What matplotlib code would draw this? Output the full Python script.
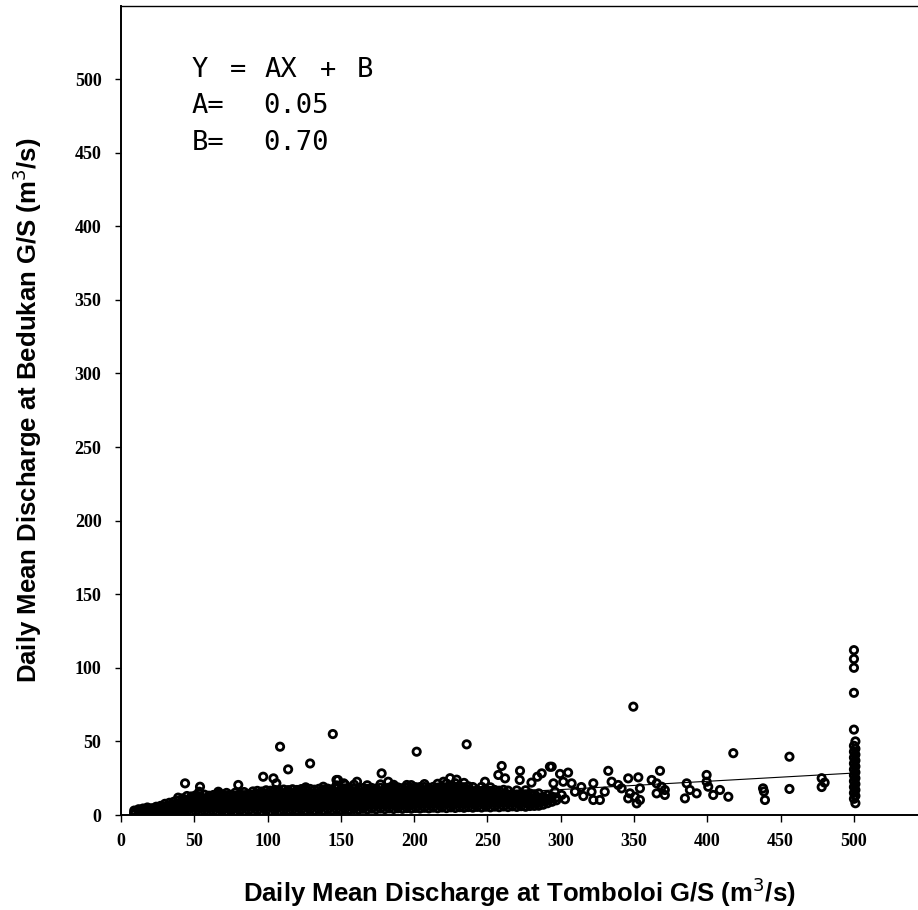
import matplotlib.pyplot as plt

# dense band of daily pairs (Tomboloi x, Bedukan y), read column by column
band_cols = [
    (9, [0.5, 1.6, 3.0]), (12, [0.8, 2.2, 3.9]), (15, [1.0, 2.6, 4.4]),
    (18, [0.7, 2.1, 3.7, 5.1]), (21, [1.2, 2.9, 4.6]), (24, [0.9, 2.4, 4.1, 5.6]),
    (27, [1.1, 3.0, 5.0, 6.2]), (30, [1.5, 3.4, 5.7, 7.6]), (33, [1.3, 3.6, 6.0, 8.3]),
    (36, [1.8, 4.1, 6.5, 9.0]), (39, [2.0, 4.5, 7.1, 9.7, 11.8]),
    (42, [1.6, 4.2, 6.8, 9.4, 11.3]), (45, [2.2, 5.0, 7.6, 10.3, 12.9]),
    (48, [2.0, 4.8, 7.7, 10.5, 12.6]), (51, [2.4, 5.2, 8.0, 10.8, 13.4]),
    (54, [1.9, 4.6, 7.4, 10.1, 12.5]), (57, [2.6, 5.5, 8.3, 11.2, 13.8]),
    (60, [2.2, 5.0, 7.9, 10.6, 13.1]), (63, [2.5, 5.3, 8.1, 10.9, 13.6]),
    (66, [2.0, 4.9, 7.6, 10.4, 12.9, 14.6]), (69, [2.7, 5.6, 8.4, 11.1, 13.9]),
    (72, [2.3, 5.1, 7.8, 10.7, 13.3, 15.0]), (75, [2.6, 5.4, 8.2, 11.0, 13.7]),
    (78, [2.1, 4.9, 7.7, 10.5, 13.2, 15.2]), (81, [2.8, 5.7, 8.5, 11.3, 14.1]),
    (84, [2.4, 5.2, 8.0, 10.8, 13.5, 15.6]), (87, [2.9, 5.8, 8.6, 11.4, 14.2]),
    (90, [2.5, 5.3, 8.1, 10.9, 13.7, 16.0]), (93, [3.0, 5.9, 8.7, 11.5, 14.3, 16.4]),
    (96, [2.6, 5.4, 8.2, 11.0, 13.8, 15.9]), (99, [3.1, 6.0, 8.8, 11.6, 14.4, 16.8]),
    (102, [2.7, 5.5, 8.3, 11.1, 13.9, 16.5]), (105, [3.2, 6.1, 8.9, 11.7, 14.5, 17.0]),
    (108, [2.8, 5.6, 8.4, 11.2, 14.0, 16.6]), (111, [3.3, 6.2, 9.0, 11.8, 14.6, 17.3]),
    (114, [2.9, 5.7, 8.5, 11.3, 14.1, 16.9]), (117, [3.4, 6.3, 9.1, 11.9, 14.7, 17.5]),
    (120, [3.0, 5.8, 8.6, 11.4, 14.2, 17.0]), (123, [3.5, 6.4, 9.2, 12.0, 14.8, 17.6]),
    (126, [3.1, 5.9, 8.7, 11.5, 14.3, 17.1, 18.8]), (129, [3.6, 6.5, 9.3, 12.1, 14.9, 17.7]),
    (132, [3.2, 6.0, 8.8, 11.6, 14.4, 17.2]), (135, [3.7, 6.6, 9.4, 12.2, 15.0, 17.8]),
    (138, [3.3, 6.1, 8.9, 11.7, 14.5, 17.3, 19.2]), (141, [3.8, 6.7, 9.5, 12.3, 15.1, 17.9]),
    (144, [3.4, 6.2, 9.0, 11.8, 14.6, 17.4]), (147, [3.9, 6.8, 9.6, 12.4, 15.2, 18.0, 20.1]),
    (150, [3.5, 6.3, 9.1, 11.9, 14.7, 17.5]), (153, [4.0, 6.9, 9.7, 12.5, 15.3, 18.1, 20.4]),
    (156, [3.6, 6.4, 9.2, 12.0, 14.8, 17.6]), (159, [4.1, 7.0, 9.8, 12.6, 15.4, 18.2, 20.6]),
    (162, [3.7, 6.5, 9.3, 12.1, 14.9, 17.7]), (165, [4.2, 7.1, 9.9, 12.7, 15.5, 18.3]),
    (168, [3.8, 6.6, 9.4, 12.2, 15.0, 17.8, 20.2]), (171, [4.3, 7.2, 10.0, 12.8, 15.6, 18.4]),
    (174, [3.9, 6.7, 9.5, 12.3, 15.1, 17.9]), (177, [4.4, 7.3, 10.1, 12.9, 15.7, 18.5, 20.8]),
    (180, [4.0, 6.8, 9.6, 12.4, 15.2, 18.0]), (183, [4.5, 7.4, 10.2, 13.0, 15.8, 18.6]),
    (186, [4.1, 6.9, 9.7, 12.5, 15.3, 18.1, 20.5]), (189, [4.6, 7.5, 10.3, 13.1, 15.9, 18.7]),
    (192, [4.2, 7.0, 9.8, 12.6, 15.4, 18.2]), (195, [4.7, 7.6, 10.4, 13.2, 16.0, 18.8]),
    (198, [4.3, 7.1, 9.9, 12.7, 15.5, 18.3, 20.3]), (201, [4.8, 7.7, 10.5, 13.3, 16.1, 18.9]),
    (204, [4.4, 7.2, 10.0, 12.8, 15.6, 18.4]), (207, [4.9, 7.8, 10.6, 13.4, 16.2, 19.0, 21.0]),
    (210, [4.5, 7.3, 10.1, 12.9, 15.7, 18.5]), (213, [5.0, 7.9, 10.7, 13.5, 16.3, 19.1]),
    (216, [4.6, 7.4, 10.2, 13.0, 15.8, 18.6, 21.2]), (219, [5.1, 8.0, 10.8, 13.6, 16.4, 19.2]),
    (222, [4.7, 7.5, 10.3, 13.1, 15.9, 18.7, 21.4]), (225, [5.2, 8.1, 10.9, 13.7, 16.5, 19.3]),
    (228, [4.8, 7.6, 10.4, 13.2, 16.0, 18.8, 21.6]), (231, [5.3, 8.2, 11.0, 13.8, 16.6, 19.4]),
    (234, [4.9, 7.7, 10.5, 13.3, 16.1, 18.9, 21.8]), (237, [5.4, 8.3, 11.1, 13.9, 16.7, 19.5]),
    (240, [5.0, 7.8, 10.6, 13.4, 16.2, 19.0]), (243, [5.5, 8.4, 11.2, 14.0, 16.8]),
    (246, [5.1, 7.9, 10.7, 13.5, 16.3, 19.1]), (249, [5.6, 8.5, 11.3, 14.1, 16.9]),
    (252, [5.2, 8.0, 10.8, 13.6, 16.4, 18.8]), (255, [5.7, 8.6, 11.4, 14.2, 17.0]),
    (258, [5.3, 8.1, 10.9, 13.7, 16.5]), (261, [5.8, 8.7, 11.5, 14.3, 17.1]),
    (264, [5.4, 8.2, 11.0, 13.8, 16.6]), (267, [5.9, 8.8, 11.6, 14.4]),
    (270, [5.5, 8.3, 11.1, 13.9, 16.7]), (273, [6.0, 8.9, 11.7, 14.5]),
    (276, [5.6, 8.4, 11.2, 14.0, 16.8]), (279, [6.1, 9.0, 11.8, 14.6]),
    (282, [6.2, 8.5, 11.3, 14.1]), (285, [6.3, 9.1, 11.9, 14.7]),
    (288, [7.0, 9.6, 12.4]), (291, [8.0, 11.0, 13.5]), (294, [9.0, 12.5]),
    (297, [10.0, 12.0]),
]

# scattered points above the band and beyond 290
sparse_x = [43.7, 53.9, 53.4, 66.4, 80, 97, 104, 106, 108.5, 114, 129, 144.5,
            147, 148, 152, 161, 177.8, 182.3, 187, 195, 201.7, 204, 220, 224.5,
            229, 235.8, 248.3, 257.4, 259.7, 262, 272.2, 272, 280, 284, 287, 292.6,
            293.8, 299.5, 305, 295, 301.7, 307.4, 296, 300.6, 302.9, 309.7, 315.4,
            314, 322.2, 321, 322.2, 326.7, 330, 332.4, 334.7, 339.2, 341.5, 346,
            352.9, 347.2, 346, 350.6, 354, 351.8, 354, 349.5, 362, 367.7, 365.4,
            368.8, 371, 365.4, 371, 385.9, 388.1, 384.7, 392.7, 399.5, 399.5, 400.6,
            404, 408.6, 414.3, 417.7, 438, 439.3, 438.6, 456, 456, 478, 478, 480]
sparse_y = [21.5, 19.2, 15.8, 15.8, 20.4, 26, 24.9, 21.5, 46.4, 31, 35, 55,
            23.8, 23.8, 21.5, 22.6, 28.3, 22.6, 19.2, 20.4, 43, 19, 22.6, 25,
            24, 48, 22.6, 27.2, 33.3, 24.9, 30, 23.8, 22, 26, 28.3, 32.8,
            32.8, 27.9, 28.8, 21.5, 22.6, 21.5, 15.8, 13.6, 10.7, 15.8, 12.9,
            19, 21.5, 15.8, 10.2, 10.2, 15.8, 30, 22.6, 20.4, 18.1, 24.9,
            25.6, 14.7, 11.3, 12.4, 10.2, 7.9, 18.1, 73.6, 23.8, 30, 21.5,
            19.2, 17, 14.7, 13.6, 21.5, 17, 11.3, 14.7, 27.2, 22.6, 19.2,
            13.6, 17, 12.4, 42, 18.1, 10.2, 16, 39.6, 17.7, 25, 19, 22]

# capped column at 500 m3/s
cap_x = [500, 500, 500, 500, 500, 501, 500, 501, 500, 501, 500, 501, 500, 501,
         500, 501, 500, 501, 500, 501, 500, 501, 500, 501, 500, 501]
cap_y = [112, 106, 100, 83, 58, 50, 47, 45, 43, 41, 39, 37, 35, 33, 31, 29,
         27, 25, 23, 21, 19, 17, 15, 13, 11, 8]

# regression line as drawn
fit_x = [10, 500]
fit_y = [1.0, 28.5]

xticks = [0, 50, 100, 150, 200, 250, 300, 350, 400, 450, 500]
yticks = [0, 50, 100, 150, 200, 250, 300, 350, 400, 450, 500]

band_x = [c[0] for c in band_cols for _ in c[1]]
band_y = [v for c in band_cols for v in c[1]]

fig = plt.figure(figsize=(9.18, 9.10), dpi=100)
ax = fig.add_axes([121 / 918, 95 / 910, 797 / 918, 809 / 910])

mk = dict(s=28, facecolors='none', edgecolors='black', linewidths=2.0)
ax.scatter(band_x, band_y, **mk)
ax.scatter(sparse_x, sparse_y, **mk)
ax.scatter(cap_x, cap_y, **mk)
ax.plot(fit_x, fit_y, color='black', lw=0.8)

ax.set_xlim(0, 543.7)
ax.set_ylim(0, 549.6)
ax.set_xticks(xticks)
ax.set_yticks(yticks)
tick_font = dict(family='Liberation Serif', fontsize=13, fontweight='bold')
ax.set_xticklabels([str(t) for t in xticks], **tick_font)
ax.set_yticklabels([str(t) for t in yticks], **tick_font)
ax.tick_params(axis='x', direction='out', length=5, width=1, pad=8)
ax.tick_params(axis='y', direction='out', length=4, width=1, pad=10)
ax.spines['right'].set_visible(False)
for s in ['left', 'bottom']:
    ax.spines[s].set_linewidth(1.4)
ax.spines['top'].set_linewidth(1.0)

lab_font = dict(family='Liberation Sans', fontweight='bold', fontsize=18.5)
ax.set_xlabel('Daily Mean Discharge at Tomboloi G/S (m$^3$/s)', labelpad=18, **lab_font)
ax.set_ylabel('Daily Mean Discharge at Bedukan G/S (m$^3$/s)', labelpad=22, **lab_font)

# fitted equation, token by token as laid out on the original
eq = dict(family='DejaVu Sans Mono', fontsize=19.5, va='center', ha='left')
ax.text(48.4, 506, 'Y', **eq)
ax.text(74.4, 506, '=', **eq)
ax.text(98.2, 506, 'AX', **eq)
ax.text(135.7, 506, '+', **eq)
ax.text(161, 506, 'B', **eq)
ax.text(48.4, 482, 'A=', **eq)
ax.text(96.9, 482, '0.05', **eq)
ax.text(48.4, 456.5, 'B=', **eq)
ax.text(96.9, 456.5, '0.70', **eq)

fig.savefig('out.png', dpi=100)
